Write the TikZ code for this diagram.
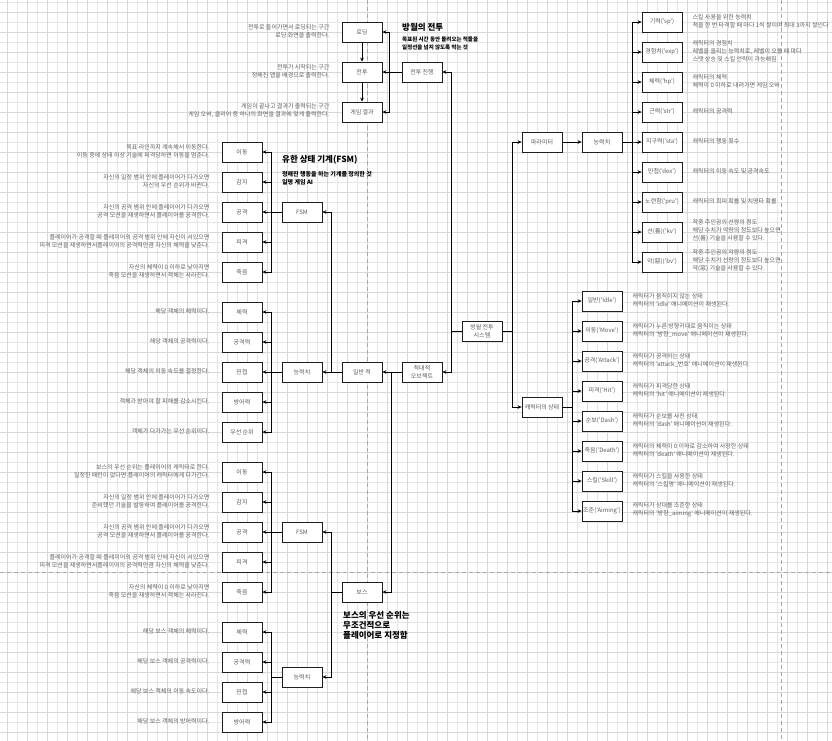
\documentclass[tikz,border=0pt]{standalone}
\usepackage{fontspec}
\setmainfont{Noto Sans CJK KR}
\usetikzlibrary{positioning,arrows.meta}

\definecolor{gridminor}  {HTML}{E6E6E6}
\definecolor{gridmajor}  {HTML}{D8D8D8}
\definecolor{breakcolor} {HTML}{A8A8A8}
\definecolor{boxborder}  {HTML}{1E1E1E}
\definecolor{labelcolor} {HTML}{5C5C5C}
\definecolor{notecolor}  {HTML}{606060}
\definecolor{titlecolor} {HTML}{000000}

\newcommand{\smalltext}{\fontsize{6}{8}\selectfont}

\tikzset{
  box/.style={
    rectangle, fill=white, draw=boxborder, line width=0.8pt,
    minimum width=40pt, minimum height=20pt, inner sep=1pt,
    align=center, font=\smalltext, text=labelcolor
  },
  noteleft/.style={align=right, font=\smalltext, text=notecolor, inner sep=0pt, yshift=1pt},
  noteright/.style={align=left, font=\smalltext, text=notecolor, inner sep=0pt, yshift=1pt},
  heading/.style={anchor=west, inner sep=0pt, text=titlecolor, font=\fontsize{8.5}{10}\selectfont\bfseries},
  subheading/.style={anchor=west, align=left, inner sep=0pt, text=titlecolor, font=\fontsize{6}{8}\selectfont\bfseries},
  link/.style={draw=black, line width=0.8pt, -{Stealth[length=4pt,width=3.6pt]}},
  pagebreak/.style={draw=breakcolor, line width=0.8pt, dash pattern=on 4pt off 3pt}
}

\begin{document}
\begin{tikzpicture}[x=1pt, y=-1pt]

%% ── Canvas: paper, grid, page breaks ─────────────────────────────
\path[use as bounding box, clip] (0,0) rectangle (832,740);
\fill[white] (0,0) rectangle (832,740);
\draw[gridminor, line width=0.5pt, step=10pt, shift={(7,2)}] (-20,750) grid (840,-20);
\draw[gridmajor, line width=0.6pt, step=20pt, shift={(7,12)}] (-20,750) grid (840,-20);
\draw[pagebreak] (367,0) -- (367,740);
\draw[pagebreak] (781,0) -- (781,740);
\draw[pagebreak] (0,572) -- (832,572);

%% ── Battle flow ──────────────────────────────────────────────────
\node[box] (loading)  at (362,32)  {로딩};
\node[box] (battle)   at (362,72)  {전투};
\node[box] (result)   at (362,112) {게임 결과};
\node[box] (progress) at (422,72)  {전투 진행};

\node[noteleft, left=12pt of loading] (loadingnote) {전투로 들어가면서 로딩되는 구간\\로딩 화면을 출력한다.};
\node[noteleft, left=12pt of battle]  (battlenote)  {전투가 시작되는 구간\\정해진 맵을 배경으로 출력한다.};
\node[noteleft, left=12pt of result]  (resultnote)  {게임이 끝나고 결과가 출력되는 구간\\게임 오버, 클리어 중 하나의 화면을 결과에 맞게 출력한다.};

\node[heading] (battletitle) at (402,27) {방월의 전투};
\node[subheading, font=\fontsize{5.5}{8}\selectfont\bfseries] (battlesub) at (402,43)
  {목표된 시간 동안 몰려오는 적들을\\일정선을 넘지 않도록 막는 것};

%% ── System root ──────────────────────────────────────────────────
\node[box] (system)  at (482,331) {방월 전투\\시스템};
\node[box] (hostile) at (422,372) {적대적\\오브젝트};

%% ── Player side: parameters ──────────────────────────────────────
\node[box] (param)    at (542,142) {파라미터};
\node[box] (charstat) at (602,142) {능력치};

\node[box] (sp)  at (662,22)  {기력('sp')};
\node[box] (exp) at (662,52)  {경험치('exp')};
\node[box] (hp)  at (662,82)  {체력('hp')};
\node[box] (str) at (662,112) {근력('str')};
\node[box] (sta) at (662,142) {지구력('sta')};
\node[box] (dex) at (662,172) {민첩('dex')};
\node[box] (pru) at (662,202) {노련함('pru')};
\node[box] (kv)  at (662,232) {선(善)('kv')};
\node[box] (bv)  at (662,262) {악(惡)('bv')};

\node[noteright, right=10pt of sp]  (spnote)  {스킬 사용을 위한 능력치\\적을 한 번 타격할 때 마다 1씩 쌓이며 최대 3까지 쌓인다};
\node[noteright, right=10pt of exp] (expnote) {캐릭터의 경험치\\레벨을 올리는 능력치로, 레벨이 오를 때 마다\\스탯 상승 및 스킬 언락이 가능해짐};
\node[noteright, right=10pt of hp]  (hpnote)  {캐릭터의 체력\\체력이 0 이하로 내려가면 게임 오버};
\node[noteright, right=10pt of str] (strnote) {캐릭터의 공격력};
\node[noteright, right=10pt of sta] (stanote) {캐릭터의 행동 횟수};
\node[noteright, right=10pt of dex] (dexnote) {캐릭터의 이동 속도 및 공격속도};
\node[noteright, right=10pt of pru] (prunote) {캐릭터의 회피 확률 및 치명타 확률};
\node[noteright, right=10pt of kv]  (kvnote)  {작중 주인공의 선량의 정도\\해당 수치가 악량의 정도보다 높으면\\선(善) 기술을 사용할 수 있다.};
\node[noteright, right=10pt of bv]  (bvnote)  {작중 주인공의 악량의 정도\\해당 수치가 선량의 정도보다 높으면\\악(惡) 기술을 사용할 수 있다.};

%% ── Player side: states ──────────────────────────────────────────
\node[box] (charstate) at (542,407) {캐릭터의 상태};

\node[box] (idle)   at (602,301) {일반('Idle')};
\node[box] (move)   at (602,331) {이동('Move')};
\node[box] (attack) at (602,361) {공격('Attack')};
\node[box] (hit)    at (602,391) {피격('Hit')};
\node[box] (dash)   at (602,421) {순보('Dash')};
\node[box] (death)  at (602,451) {죽음('Death')};
\node[box] (skill)  at (602,481) {스킬('Skill')};
\node[box] (aim)    at (602,511) {조준('Aiming')};

\node[noteright, right=10pt of idle]   (idlenote)   {캐릭터가 움직이지 않는 상태\\캐릭터의 'idle' 애니메이션이 재생된다.};
\node[noteright, right=10pt of move]   (movenote)   {캐릭터가 누른 방향키대로 움직이는 상태\\캐릭터의 '방향\_move' 애니메이션이 재생된다.};
\node[noteright, right=10pt of attack] (attacknote) {캐릭터가 공격하는 상태\\캐릭터의 'attack\_번호' 애니메이션이 재생된다.};
\node[noteright, right=10pt of hit]    (hitnote)    {캐릭터가 피격당한 상태\\캐릭터의 'hit' 애니메이션이 재생된다.};
\node[noteright, right=10pt of dash]   (dashnote)   {캐릭터가 순보를 사친 상태\\캐릭터의 'dash' 애니메이션이 재생된다.};
\node[noteright, right=10pt of death]  (deathnote)  {캐릭터의 체력이 0 이하로 감소하여 사망한 상태\\캐릭터의 'death' 애니메이션이 재생된다.};
\node[noteright, right=10pt of skill]  (skillnote)  {캐릭터가 스킬을 사용한 상태\\캐릭터의 '스킬명' 애니메이션이 재생된다.};
\node[noteright, right=10pt of aim]    (aimnote)    {캐릭터가 상대를 조준한 상태\\캐릭터의 '방향\_aiming' 애니메이션이 재생된다.};

%% ── Enemy side: normal enemy ─────────────────────────────────────
\node[box] (normal)  at (362,372) {일반 적};
\node[box] (mobfsm)  at (302,212) {FSM};
\node[box] (mobstat) at (302,372) {능력치};

\node[heading] (fsmtitle) at (282,160) {유한 상태 기계(FSM)};
\node[subheading] (fsmsub) at (282,178.5) {정해진 행동을 하는 기계를 정의한 것\\일명 게임 AI};

\node[box] (mobmove)   at (242,152) {이동};
\node[box] (mobsense)  at (242,182) {감지};
\node[box] (mobattack) at (242,212) {공격};
\node[box] (mobhit)    at (242,242) {피격};
\node[box] (mobdeath)  at (242,272) {죽음};

\node[noteleft, left=12pt of mobmove]   (mobmovenote)   {목표 라인까지 계속해서 이동한다.\\이동 중에 상태 이상 기술에 피격당하면 이동을 멈춘다.};
\node[noteleft, left=12pt of mobsense]  (mobsensenote)  {자신의 일정 범위 안에 플레이어가 다가오면\\자신의 우선 순위가 바뀐다.};
\node[noteleft, left=12pt of mobattack] (mobattacknote) {자신의 공격 범위 안에 플레이어가 다가오면\\공격 모션을 재생하면서 플레이어를 공격한다.};
\node[noteleft, left=12pt of mobhit]    (mobhitnote)    {플레이어가 공격할 때 플레이어의 공격 범위 안에 자신이 서있으면\\피격 모션을 재생하면서플레이어의 공격력만큼 자신의 체력을 낮춘다.};
\node[noteleft, left=12pt of mobdeath]  (mobdeathnote)  {자신의 체력이 0 이하로 낮아지면\\죽음 모션을 재생하면서 객체는 사라진다.};

\node[box] (mobhp)   at (242,312) {체력};
\node[box] (mobatk)  at (242,342) {공격력};
\node[box] (mobdex)  at (242,372) {민첩};
\node[box] (mobdef)  at (242,402) {방어력};
\node[box] (mobprio) at (242,432) {우선 순위};

\node[noteleft, left=12pt of mobhp]   (mobhpnote)   {해당 객체의 체력이다.};
\node[noteleft, left=12pt of mobatk]  (mobatknote)  {해당 객체의 공격력이다.};
\node[noteleft, left=12pt of mobdex]  (mobdexnote)  {해당 객체의 이동 속도를 결정한다.};
\node[noteleft, left=12pt of mobdef]  (mobdefnote)  {객체가 받아야 할 피해를 감소시킨다.};
\node[noteleft, left=12pt of mobprio] (mobprionote) {객체가 다가가는 우선 순위이다.};

%% ── Enemy side: boss ─────────────────────────────────────────────
\node[box] (boss)     at (362,592) {보스};
\node[box] (bossfsm)  at (302,532) {FSM};
\node[box] (bossstat) at (302,677) {능력치};

\node[anchor=west, align=left, inner sep=0pt, text=titlecolor,
      font=\fontsize{8.5}{10}\selectfont\bfseries] (bossnote) at (343,625)
  {보스의 우선 순위는\\무조건적으로\\플레이어로 지정함};

\node[box] (bossmove)   at (242,472) {이동};
\node[box] (bosssense)  at (242,502) {감지};
\node[box] (bossattack) at (242,532) {공격};
\node[box] (bosshit)    at (242,562) {피격};
\node[box] (bossdeath)  at (242,592) {죽음};

\node[noteleft, left=12pt of bossmove]   (bossmovenote)   {보스의 우선 순위는 플레이어의 캐릭터로 한다.\\일정한 패턴이 없다면 플레이어의 캐릭터에게 다가간다.};
\node[noteleft, left=12pt of bosssense]  (bosssensenote)  {자신의 일정 범위 안에 플레이어가 다가오면\\준비했던 기술을 발동하여 플레이어를 공격한다.};
\node[noteleft, left=12pt of bossattack] (bossattacknote) {자신의 공격 범위 안에 플레이어가 다가오면\\공격 모션을 재생하면서 플레이어를 공격한다.};
\node[noteleft, left=12pt of bosshit]    (bosshitnote)    {플레이어가 공격할 때 플레이어의 공격 범위 안에 자신이 서있으면\\피격 모션을 재생하면서플레이어의 공격력만큼 자신의 체력을 낮춘다.};
\node[noteleft, left=12pt of bossdeath]  (bossdeathnote)  {자신의 체력이 0 이하로 낮아지면\\죽음 모션을 재생하면서 객체는 사라진다.};

\node[box] (bosshp)  at (242,632) {체력};
\node[box] (bossatk) at (242,662) {공격력};
\node[box] (bossdex) at (242,692) {민첩};
\node[box] (bossdef) at (242,722) {방어력};

\node[noteleft, left=12pt of bosshp]  (bosshpnote)  {해당 보스 객체의 체력이다.};
\node[noteleft, left=12pt of bossatk] (bossatknote) {해당 보스 객체의 공격력이다.};
\node[noteleft, left=12pt of bossdex] (bossdexnote) {해당 보스 객체의 이동 속도이다.};
\node[noteleft, left=12pt of bossdef] (bossdefnote) {해당 보스 객체의 방어력이다.};

%% ── Connectors ───────────────────────────────────────────────────
\draw[link] (loading) -- (battle);
\draw[link] (battle) -- (result);
\draw[link] (progress.west) -- ++(-12,0) |- (loading.east);
\draw[link] (progress) -- (battle);
\draw[link] (progress.west) -- ++(-12,0) |- (result.east);

\draw[link] (system.west) -- ++(-10,0) |- (progress.east);
\draw[link] (system.west) -- ++(-10,0) |- (hostile.east);
\draw[link] (system.east) -- ++(10,0) |- (param.west);
\draw[link] (system.east) -- ++(10,0) |- (charstate.west);

\draw[link] (param) -- (charstat);
\draw[link] (charstat.east) -- ++(10,0) |- (sp.west);
\draw[link] (charstat.east) -- ++(10,0) |- (exp.west);
\draw[link] (charstat.east) -- ++(10,0) |- (hp.west);
\draw[link] (charstat.east) -- ++(10,0) |- (str.west);
\draw[link] (charstat.east) -- ++(10,0) |- (sta.west);
\draw[link] (charstat.east) -- ++(10,0) |- (dex.west);
\draw[link] (charstat.east) -- ++(10,0) |- (pru.west);
\draw[link] (charstat.east) -- ++(10,0) |- (kv.west);
\draw[link] (charstat.east) -- ++(10,0) |- (bv.west);

\draw[link] (charstate.east) -- ++(10,0) |- (idle.west);
\draw[link] (charstate.east) -- ++(10,0) |- (move.west);
\draw[link] (charstate.east) -- ++(10,0) |- (attack.west);
\draw[link] (charstate.east) -- ++(10,0) |- (hit.west);
\draw[link] (charstate.east) -- ++(10,0) |- (dash.west);
\draw[link] (charstate.east) -- ++(10,0) |- (death.west);
\draw[link] (charstate.east) -- ++(10,0) |- (skill.west);
\draw[link] (charstate.east) -- ++(10,0) |- (aim.west);

\draw[link] (hostile) -- (normal);
\draw[link] (hostile.west) -- ++(-10,0) |- (boss.east);

\draw[link] (normal.west) -- ++(-10,0) |- (mobfsm.east);
\draw[link] (normal) -- (mobstat);
\draw[link] (mobfsm.west) -- ++(-10,0) |- (mobmove.east);
\draw[link] (mobfsm.west) -- ++(-10,0) |- (mobsense.east);
\draw[link] (mobfsm.west) -- ++(-10,0) |- (mobattack.east);
\draw[link] (mobfsm.west) -- ++(-10,0) |- (mobhit.east);
\draw[link] (mobfsm.west) -- ++(-10,0) |- (mobdeath.east);
\draw[link] (mobstat.west) -- ++(-10,0) |- (mobhp.east);
\draw[link] (mobstat.west) -- ++(-10,0) |- (mobatk.east);
\draw[link] (mobstat.west) -- ++(-10,0) |- (mobdex.east);
\draw[link] (mobstat.west) -- ++(-10,0) |- (mobdef.east);
\draw[link] (mobstat.west) -- ++(-10,0) |- (mobprio.east);

\draw[link] (boss.west) -- ++(-10,0) |- (bossfsm.east);
\draw[link] (boss.west) -- ++(-10,0) |- (bossstat.east);
\draw[link] (bossfsm.west) -- ++(-10,0) |- (bossmove.east);
\draw[link] (bossfsm.west) -- ++(-10,0) |- (bosssense.east);
\draw[link] (bossfsm.west) -- ++(-10,0) |- (bossattack.east);
\draw[link] (bossfsm.west) -- ++(-10,0) |- (bosshit.east);
\draw[link] (bossfsm.west) -- ++(-10,0) |- (bossdeath.east);
\draw[link] (bossstat.west) -- ++(-10,0) |- (bosshp.east);
\draw[link] (bossstat.west) -- ++(-10,0) |- (bossatk.east);
\draw[link] (bossstat.west) -- ++(-10,0) |- (bossdex.east);
\draw[link] (bossstat.west) -- ++(-10,0) |- (bossdef.east);

\end{tikzpicture}
\end{document}
